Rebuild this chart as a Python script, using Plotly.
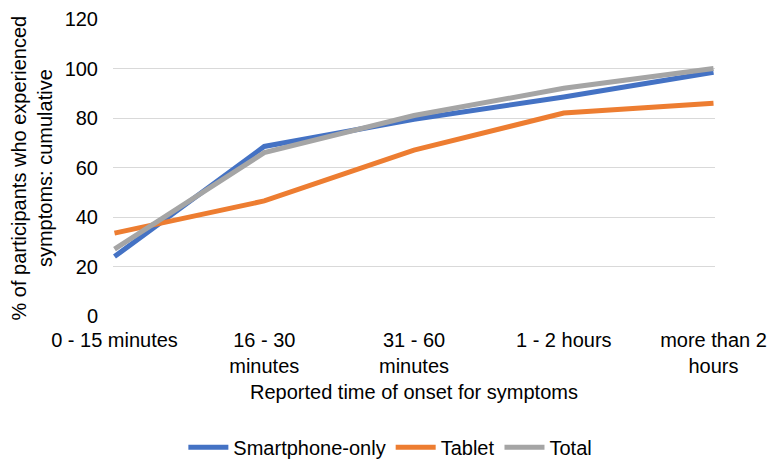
import plotly.graph_objects as go

categories = ["0 - 15 minutes", "16 - 30<br>minutes", "31 - 60<br>minutes", "1 - 2 hours", "more than 2<br>hours"]
smartphone = [24, 68.5, 79.5, 88.5, 98.5]
tablet = [33.5, 46.5, 67, 82, 86]
total = [27, 66, 81, 92, 100]
y_ticks = [0, 20, 40, 60, 80, 100, 120]

font = "Liberation Sans, Arial, sans-serif"
fs = 20
fig = go.Figure()
for name, vals, col in [("Smartphone-only", smartphone, "#4472C4"),
                        ("Tablet", tablet, "#ED7D31"),
                        ("Total", total, "#A5A5A5")]:
    fig.add_trace(go.Scatter(x=list(range(len(categories))), y=vals, name=name, mode="lines",
                             line=dict(color=col, width=5)))

fig.update_layout(
    width=773, height=461,
    margin=dict(l=113, r=58, t=19, b=145),
    paper_bgcolor="white", plot_bgcolor="white",
    font=dict(family=font, size=fs, color="#000000"),
    showlegend=True,
    legend=dict(orientation="h", xref="container", yref="container",
                x=0.505, xanchor="center", y=0.03, yanchor="middle",
                font=dict(size=fs), itemwidth=40),
    xaxis=dict(tickmode="array", tickvals=list(range(len(categories))), ticktext=categories,
               range=[-0.01, 4.01], showgrid=False, zeroline=False, showline=False,
               ticks="", tickfont=dict(size=fs), automargin=False, ticklabelstandoff=10),
    yaxis=dict(range=[0, 120], tickvals=y_ticks, showgrid=True, gridcolor="#D9D9D9", gridwidth=1.3,
               zeroline=False, showline=False, ticks="", tickfont=dict(size=fs),
               ticklabelstandoff=14, automargin=False),
    annotations=[
        dict(text="% of participants who experienced<br>symptoms: cumulative", textangle=-90,
             xref="paper", yref="paper", x=-0.1346, y=0.5, xanchor="center", yanchor="middle",
             showarrow=False, font=dict(size=fs)),
        dict(text="Reported time of onset for symptoms",
             xref="paper", yref="paper", x=0.5, y=-0.256, xanchor="center", yanchor="middle",
             showarrow=False, font=dict(size=fs)),
    ],
)
fig.write_html("out.html", config={"displayModeBar": False},
               post_script="document.body.style.margin='0';")
